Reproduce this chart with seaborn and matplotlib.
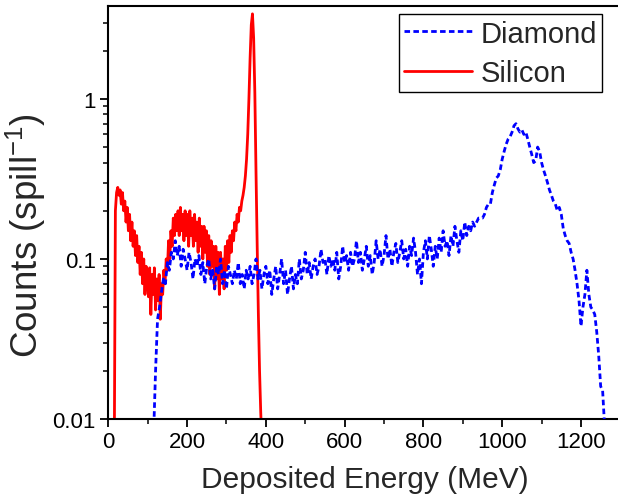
import numpy as np
import pandas as pd
import matplotlib
matplotlib.use("Agg")
import matplotlib.pyplot as plt
import seaborn as sns
from matplotlib.ticker import LogLocator, MultipleLocator, FixedLocator, FixedFormatter, NullFormatter

# ---------------- data ----------------
si_start, si_step = 15, 3          # MeV, bin grid of the silicon spectrum
si_counts = [
    0.005, 0.2, 0.26, 0.28, 0.25, 0.27, 0.22, 0.26, 0.2, 0.23,
    0.17, 0.21, 0.15, 0.19, 0.13, 0.17, 0.12, 0.15, 0.105, 0.14,
    0.095, 0.12, 0.08, 0.11, 0.07, 0.1, 0.06, 0.09, 0.075, 0.058,
    0.088, 0.045, 0.08, 0.06, 0.088, 0.048, 0.075, 0.055, 0.08, 0.042,
    0.07, 0.06, 0.085, 0.07, 0.1, 0.085, 0.13, 0.1, 0.15, 0.12,
    0.18, 0.14, 0.19, 0.15, 0.2, 0.14, 0.21, 0.15, 0.19, 0.13,
    0.2, 0.14, 0.19, 0.12, 0.2, 0.14, 0.18, 0.12, 0.19, 0.13,
    0.17, 0.11, 0.18, 0.12, 0.16, 0.1, 0.16, 0.11, 0.15, 0.09,
    0.14, 0.08, 0.13, 0.09, 0.12, 0.065, 0.12, 0.075, 0.11, 0.06,
    0.11, 0.075, 0.1, 0.065, 0.12, 0.085, 0.13, 0.095, 0.14, 0.11,
    0.15, 0.13, 0.17, 0.15, 0.19, 0.17, 0.21, 0.2, 0.23, 0.25,
    0.28, 0.33, 0.42, 0.6, 1.0, 1.8, 2.9, 3.4, 2.4, 1.1,
    0.35, 0.12, 0.045, 0.02, 0.011, 0.007,
]

dia_start, dia_step = 115, 5       # MeV, bin grid of the diamond spectrum
dia_counts = [
    0.008, 0.02, 0.042, 0.05, 0.062, 0.075, 0.07, 0.095, 0.085, 0.11,
    0.1, 0.13, 0.105, 0.12, 0.09, 0.115, 0.1, 0.085, 0.11, 0.095,
    0.075, 0.1, 0.09, 0.105, 0.08, 0.095, 0.07, 0.09, 0.1, 0.075,
    0.085, 0.065, 0.09, 0.08, 0.1, 0.07, 0.085, 0.065, 0.09, 0.08,
    0.07, 0.085, 0.075, 0.095, 0.07, 0.08, 0.065, 0.085, 0.075, 0.09,
    0.07, 0.08, 0.1, 0.075, 0.085, 0.065, 0.08, 0.09, 0.07, 0.085,
    0.06, 0.075, 0.09, 0.065, 0.08, 0.1, 0.07, 0.085, 0.06, 0.075,
    0.09, 0.065, 0.08, 0.07, 0.1, 0.075, 0.085, 0.11, 0.08, 0.095,
    0.075, 0.09, 0.1, 0.08, 0.09, 0.115, 0.095, 0.1, 0.08, 0.105,
    0.09, 0.1, 0.085, 0.11, 0.075, 0.09, 0.12, 0.095, 0.105, 0.085,
    0.11, 0.09, 0.1, 0.13, 0.095, 0.11, 0.085, 0.1, 0.12, 0.09,
    0.105, 0.08, 0.095, 0.13, 0.1, 0.115, 0.09, 0.105, 0.14, 0.1,
    0.115, 0.09, 0.11, 0.125, 0.095, 0.11, 0.13, 0.1, 0.115, 0.09,
    0.12, 0.105, 0.135, 0.11, 0.08, 0.1, 0.07, 0.11, 0.13, 0.1,
    0.14, 0.115, 0.09, 0.12, 0.1, 0.135, 0.11, 0.15, 0.12, 0.13,
    0.105, 0.14, 0.12, 0.16, 0.13, 0.11, 0.15, 0.13, 0.17, 0.14,
    0.16, 0.15, 0.17, 0.16, 0.17, 0.18, 0.18, 0.18, 0.19, 0.21,
    0.22, 0.22, 0.26, 0.29, 0.32, 0.33, 0.36, 0.42, 0.47, 0.52,
    0.56, 0.58, 0.62, 0.68, 0.70, 0.65, 0.62, 0.64, 0.6, 0.62,
    0.56, 0.5, 0.45, 0.4, 0.41, 0.5, 0.47, 0.4, 0.36, 0.33,
    0.3, 0.27, 0.25, 0.23, 0.22, 0.2, 0.21, 0.19, 0.155, 0.14,
    0.13, 0.125, 0.11, 0.1, 0.085, 0.07, 0.055, 0.038, 0.05, 0.06,
    0.085, 0.06, 0.05, 0.048, 0.045, 0.035, 0.025, 0.016, 0.015, 0.009,
]

y_ticks = [0.01, 0.1, 1]
y_tick_labels = ["0.01", "0.1", "1"]
x_label = "Deposited Energy (MeV)"
y_label = "Counts (spill$^{-1}$)"

# ---------------- style ----------------
sns.set_style("ticks")
plt.rcParams["font.family"] = ["Liberation Sans", "DejaVu Sans"]
plt.rcParams["mathtext.fontset"] = "custom"
plt.rcParams["mathtext.rm"] = "Liberation Sans"
plt.rcParams["mathtext.it"] = "Liberation Sans:italic"
plt.rcParams["mathtext.default"] = "regular"

si_df = pd.DataFrame({"E": si_start + si_step * np.arange(len(si_counts)),
                      "C": si_counts})
dia_df = pd.DataFrame({"E": dia_start + dia_step * np.arange(len(dia_counts)),
                       "C": dia_counts})

W, H = 618, 502
fig = plt.figure(figsize=(W / 100, H / 100), dpi=100)
ax = fig.add_axes([108.3 / W, (H - 420) / H, (W - 108.3) / W, 412.7 / H])

sns.lineplot(data=si_df, x="E", y="C", ax=ax, color="#FF0000", lw=2.0,
             estimator=None, label="Silicon", zorder=2)
sns.lineplot(data=dia_df, x="E", y="C", ax=ax, color="#0000FF", lw=2.0,
             linestyle=(0, (2.0, 1.2)), estimator=None, label="Diamond", zorder=3)

ax.set_yscale("log")
ax.set_ylim(0.01, 3.79)
ax.set_xlim(0, 1294)

ax.yaxis.set_major_locator(FixedLocator(y_ticks))
ax.yaxis.set_major_formatter(FixedFormatter(y_tick_labels))
ax.yaxis.set_minor_locator(LogLocator(base=10, subs=np.arange(2, 10)))
ax.yaxis.set_minor_formatter(NullFormatter())
ax.xaxis.set_major_locator(MultipleLocator(200))
ax.xaxis.set_minor_locator(MultipleLocator(100))

ax.tick_params(which="major", direction="out", length=6, width=1.3,
               labelsize=16, color="black", labelcolor="black", pad=3)
ax.tick_params(which="minor", direction="out", length=3.5, width=1.1, color="black")
ax.tick_params(top=False, right=False, which="both")

for side in ("left", "bottom", "top"):
    ax.spines[side].set_linewidth(1.5)
    ax.spines[side].set_color("black")
ax.spines["right"].set_visible(False)

ax.set_xlabel(x_label, fontsize=21.5)
ax.set_ylabel(y_label, fontsize=26.5)
ax.xaxis.set_label_coords(0.504, -0.112)
ax.yaxis.set_label_coords(-0.118, 0.448)

handles, labels = ax.get_legend_handles_labels()
order = [labels.index("Diamond"), labels.index("Silicon")]
leg = ax.legend([handles[i] for i in order], [labels[i] for i in order],
                loc="upper right", bbox_to_anchor=(0.9686, 0.9806),
                borderaxespad=0, fontsize=21, frameon=True, fancybox=False,
                framealpha=1, edgecolor="black", handlelength=2.35,
                handletextpad=0.27, borderpad=0.18, labelspacing=0.4)
leg.get_frame().set_linewidth(1.0)

fig.savefig("out.png", dpi=100)
